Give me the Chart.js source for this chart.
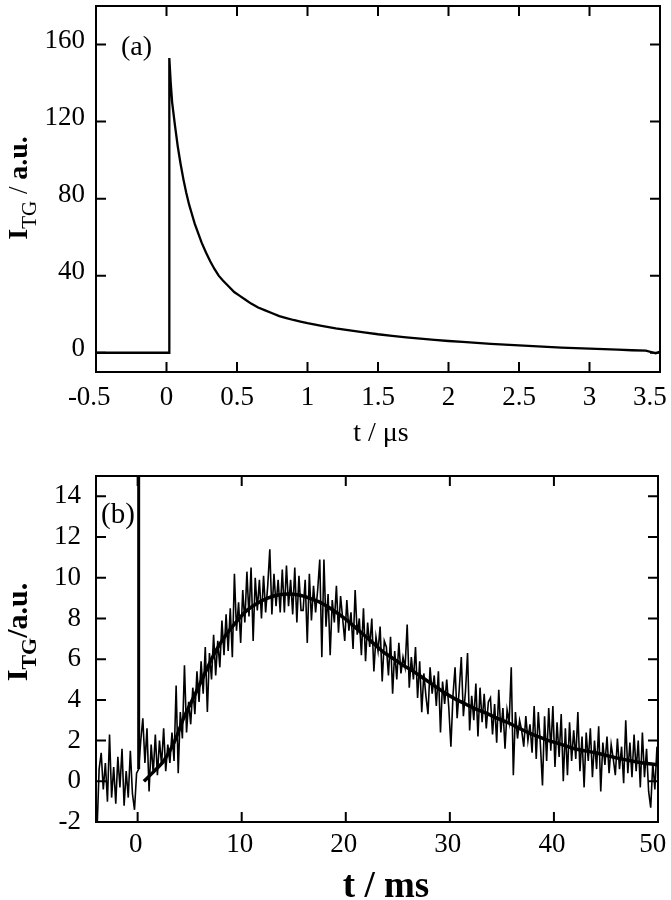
<!DOCTYPE html>
<html>
<head>
<meta charset="utf-8">
<script src="https://cdn.jsdelivr.net/npm/chart.js@4.4.1/dist/chart.umd.min.js"></script>
<style>
  html, body { margin: 0; padding: 0; background: #fff; }
  canvas { display: block; }
</style>
</head>
<body>
<canvas id="chart-a" width="671" height="450"></canvas>
<canvas id="chart-b" width="671" height="450"></canvas>
<script>
// Panel (a): TG decay in microseconds
const timeA = [-0.5, 0.02, 0.02, 0.03, 0.04, 0.06, 0.08, 0.10, 0.12, 0.14, 0.16, 0.18, 0.20, 0.22,
  0.25, 0.28, 0.31, 0.34, 0.37, 0.40, 0.44, 0.48, 0.52, 0.56, 0.60, 0.65, 0.70, 0.75, 0.80, 0.85,
  0.90, 0.95, 1.0, 1.1, 1.2, 1.3, 1.4, 1.5, 1.6, 1.7, 1.8, 1.9, 2.0, 2.1, 2.2, 2.3, 2.4, 2.5,
  2.6, 2.7, 2.8, 2.9, 3.0, 3.1, 3.2, 3.3, 3.4, 3.47, 3.5];
const signalA = [0, 0, 153, 140, 130, 118, 107, 98, 90, 83, 77, 72, 67, 63,
  57, 52, 47.5, 43.5, 40, 37.5, 34.5, 31.5, 29.5, 27.5, 25.5, 23.5, 22, 20.5, 19, 18,
  17, 16.2, 15.4, 14, 12.7, 11.6, 10.6, 9.6, 8.8, 8.0, 7.3, 6.7, 6.1, 5.6, 5.1, 4.6, 4.2, 3.8,
  3.4, 3.0, 2.7, 2.4, 2.1, 1.9, 1.6, 1.3, 1.1, -0.3, 0.6];
const xTicksA = [-0.5, 0, 0.5, 1, 1.5, 2, 2.5, 3, 3.5];
const xLabelsA = ['-0.5  ', '0', '0.5', '1', '1.5', '2', '2.5', '3', '3.5   '];
const yTicksA = [0, 40, 80, 120, 160];

// Panel (b): raw TG signal in ms, sampled every 0.2 ms starting at -4.1 ms
const rawStartB = -4.1;
const rawStepB = 0.2;
const rawB = [
  0.3, -2.4, 0.6, 1.4, -0.4, 0.9, -1.0, 2.3, -0.8, 0.7,
  -1.1, 1.2, -0.3, 1.6, -1.2, 0.5, -0.8, 1.5, -0.6, -1.4,
  0.4, 0.6, 2.0, 3.1, 0.9, 2.6, -0.5, 1.8, 0.4, 2.3,
  0.3, 2.0, 0.8, 2.6, 0.5, 1.8, 0.9, 2.4, 1.0, 4.7,
  0.4, 3.4, 2.1, 5.7, 2.4, 3.9, 2.8, 4.6, 3.3, 5.4,
  3.9, 5.9, 4.3, 6.6, 3.4, 6.3, 5.0, 7.2, 5.2, 6.9,
  5.6, 7.9, 6.2, 8.2, 6.4, 8.5, 6.1, 10.2, 7.4, 8.8,
  6.8, 9.4, 7.8, 10.3, 8.1, 10.5, 6.9, 10.0, 8.4, 9.9,
  8.0, 10.1, 8.3, 9.6, 11.4, 8.2, 10.2, 8.6, 9.9, 8.3,
  10.4, 8.3, 10.6, 8.6, 9.9, 8.2, 10.5, 7.8, 10.1, 8.4,
  8.4, 9.9, 6.8, 10.2, 7.9, 9.6, 8.3, 9.4, 10.9, 6.1,
  10.9, 7.6, 9.2, 6.2, 8.9, 7.8, 9.6, 7.3, 9.1, 8.0,
  6.9, 8.9, 7.4, 8.3, 6.5, 9.4, 7.2, 8.0, 6.2, 8.5,
  5.9, 7.8, 6.6, 8.0, 5.4, 7.1, 6.4, 7.6, 4.9, 6.9,
  6.6, 5.2, 7.1, 4.3, 6.4, 5.0, 6.8, 5.3, 6.1, 5.6,
  7.7, 4.6, 6.1, 5.0, 6.6, 4.1, 5.9, 3.4, 5.3, 4.2,
  3.3, 5.6, 4.3, 5.2, 3.7, 5.4, 2.4, 4.9, 3.8, 5.0,
  3.6, 1.7, 4.2, 5.6, 3.1, 4.5, 6.1, 3.2, 4.4, 6.3,
  2.5, 4.2, 3.0, 4.8, 2.2, 4.6, 2.9, 4.3, 2.6, 3.9,
  4.1, 2.3, 3.8, 1.9, 4.5, 2.4, 3.6, 1.6, 3.5, 2.9,
  5.6, 0.3, 3.4, 2.1, 3.0, 2.5, 1.7, 3.2, 2.0, 2.8,
  1.4, 3.7, 1.1, 3.4, 1.8, -0.2, 3.2, 1.0, 3.6, 1.5,
  3.7, 0.7, 2.9, 1.2, 3.3, 0.0, 2.6, 0.3, 2.9, 1.0,
  2.5, 1.1, 3.4, 0.5, 2.2, -0.3, 2.4, 1.0, 2.6, 0.2,
  2.0, 0.6, 2.7, -0.5, 1.9, 0.8, 2.2, 0.4, 1.8, 1.1,
  0.3, 2.1, 0.6, 1.7, -0.1, 3.0, 0.4, 1.9, 0.2, 2.3,
  0.5, 2.0, -0.3, 2.4, 0.2, 1.6, -0.5, -1.3, 0.9, -0.4,
  1.7, 0.8
];
// pump pulse spike in the raw trace (goes off scale)
const spikeTimeB = [0.1, 0.1];
const spikeB = [0.6, 16];
// Panel (b): fitted curve
const fitTimeB = [0.6, 1.5, 2.5, 3.5, 4.5, 5.5, 6.5, 7.5, 8.5, 9.5, 10.5, 11.5, 12.5, 13.5, 14.5,
  15.5, 16.5, 17.5, 18.5, 19.5, 20.5, 21.5, 22.5, 23.5, 24.5, 25.5, 26.5, 27.5, 28.5, 29.5,
  30.5, 31.5, 32.5, 33.5, 34.5, 35.5, 36.5, 37.5, 38.5, 39.5, 40.5, 42, 44, 46, 48, 50];
const fitB = [0, 0.45, 1.0, 1.9, 3.2, 4.25, 5.35, 6.4, 7.2, 7.85, 8.4, 8.75, 9.0, 9.15, 9.2,
  9.15, 9.0, 8.8, 8.5, 8.15, 7.75, 7.3, 6.85, 6.4, 6.05, 5.7, 5.4, 5.05, 4.7, 4.35,
  4.05, 3.8, 3.55, 3.35, 3.1, 2.9, 2.65, 2.4, 2.2, 2.0, 1.85, 1.6, 1.4, 1.15, 0.95, 0.8];
const xTicksB = [0, 10, 20, 30, 40, 50];
const xLabelsB = ['0', '10', '20', '30', '40', '50 '];
const yTicksB = [-2, 0, 2, 4, 6, 8, 10, 12, 14];

const SERIF = '"Liberation Serif", "Times New Roman", serif';

// frame with inward ticks on all four sides, panel letter and axis titles
const framePlugin = {
  id: 'frame',
  afterDraw(chart, args, opts) {
    const { ctx, chartArea: a, scales: { x, y } } = chart;
    ctx.save();
    ctx.strokeStyle = '#000';
    ctx.lineWidth = 2;
    ctx.strokeRect(a.left, a.top, a.right - a.left, a.bottom - a.top);
    const L = 10;
    ctx.beginPath();
    x.ticks.forEach(t => {
      const px = x.getPixelForValue(t.value);
      ctx.moveTo(px, a.bottom); ctx.lineTo(px, a.bottom - L);
      ctx.moveTo(px, a.top); ctx.lineTo(px, a.top + L);
    });
    y.ticks.forEach(t => {
      const py = y.getPixelForValue(t.value);
      ctx.moveTo(a.left, py); ctx.lineTo(a.left + L, py);
      ctx.moveTo(a.right, py); ctx.lineTo(a.right - L, py);
    });
    ctx.stroke();

    ctx.fillStyle = '#000';
    // panel letter
    ctx.font = opts.letterFont;
    ctx.textBaseline = 'middle';
    ctx.textAlign = 'left';
    ctx.fillText(opts.letter, opts.letterX, opts.letterY);

    // x title
    ctx.font = opts.xTitleFont;
    ctx.textAlign = 'center';
    ctx.textBaseline = 'alphabetic';
    ctx.fillText(opts.xTitle, (a.left + a.right) / 2 + opts.xTitleDx, opts.xTitleY);

    // rotated y title with subscript
    const parts = opts.yTitle;
    ctx.translate(opts.yTitleX, (a.top + a.bottom) / 2 + opts.yTitleDy);
    ctx.rotate(-Math.PI / 2);
    let total = 0;
    parts.forEach(p => { ctx.font = p.font; total += ctx.measureText(p.text).width; });
    let cx = -total / 2;
    ctx.textAlign = 'left';
    parts.forEach(p => {
      ctx.font = p.font;
      ctx.fillText(p.text, cx, p.dy || 0);
      cx += ctx.measureText(p.text).width;
    });
    ctx.restore();
  }
};

function fixTicks(list) {
  return scale => { scale.ticks = list.map(v => ({ value: v })); };
}
function fitX(scale) {
  scale.height = 78;
  scale.paddingLeft = 0; scale.paddingRight = 0;
}
function fitY(scale) {
  scale.width = 96;
  scale.paddingTop = 0; scale.paddingBottom = 0;
}

// Chart (a)
new Chart(document.getElementById('chart-a'), {
  type: 'line',
  data: {
    datasets: [{
      data: timeA.map((t, i) => ({ x: t, y: signalA[i] })),
      borderColor: '#000',
      borderWidth: 2.3,
      pointRadius: 0,
      tension: 0
    }]
  },
  options: {
    responsive: false,
    animation: false,
    layout: { padding: { left: 0, right: 11, top: 6, bottom: 0 } },
    plugins: {
      legend: { display: false },
      tooltip: { enabled: false },
      frame: {
        letter: '(a)', letterFont: '28px ' + SERIF, letterX: 121, letterY: 48,
        xTitle: 't / \u03bcs', xTitleFont: '28px ' + SERIF, xTitleDx: 3, xTitleY: 441,
        yTitleX: 27, yTitleDy: -1,
        yTitle: [
          { text: 'I', font: 'bold 28px ' + SERIF },
          { text: 'TG', font: '21px ' + SERIF, dy: 9 },
          { text: ' / ', font: '27px ' + SERIF },
          { text: 'a.u.', font: 'bold 28px ' + SERIF }
        ]
      }
    },
    scales: {
      x: {
        type: 'linear', min: -0.5, max: 3.5,
        afterBuildTicks: fixTicks(xTicksA),
        afterFit: fitX,
        grid: { display: false, drawTicks: false },
        border: { display: false },
        ticks: {
          color: '#000', padding: 10,
          font: { family: SERIF, size: 27 },
          callback: (v, i) => xLabelsA[i]
        }
      },
      y: {
        type: 'linear', min: -10, max: 180,
        afterBuildTicks: fixTicks(yTicksA),
        afterFit: fitY,
        grid: { display: false, drawTicks: false },
        border: { display: false },
        ticks: {
          color: '#000', padding: 11, labelOffset: -4,
          font: { family: SERIF, size: 27 }
        }
      }
    }
  },
  plugins: [framePlugin]
});

// Chart (b)
new Chart(document.getElementById('chart-b'), {
  type: 'line',
  data: {
    datasets: [{
      data: fitTimeB.map((t, i) => ({ x: t, y: fitB[i] })),
      borderColor: '#000',
      borderWidth: 3.5,
      pointRadius: 0,
      tension: 0.3
    }, {
      data: spikeTimeB.map((t, i) => ({ x: t, y: spikeB[i] })),
      borderColor: '#000',
      borderWidth: 3,
      pointRadius: 0
    }, {
      data: rawB.map((v, i) => ({ x: rawStartB + i * rawStepB, y: v })),
      borderColor: '#000',
      borderWidth: 1.6,
      pointRadius: 0,
      tension: 0
    }]
  },
  options: {
    responsive: false,
    animation: false,
    layout: { padding: { left: 0, right: 13, top: 26, bottom: 0 } },
    plugins: {
      legend: { display: false },
      tooltip: { enabled: false },
      frame: {
        letter: '(b)', letterFont: '29px ' + SERIF, letterX: 101, letterY: 65,
        xTitle: 't / ms', xTitleFont: 'bold 37px ' + SERIF, xTitleDx: 9, xTitleY: 447,
        yTitleX: 27, yTitleDy: -17,
        yTitle: [
          { text: 'I', font: 'bold 30px ' + SERIF },
          { text: 'TG', font: 'bold 22px ' + SERIF, dy: 9 },
          { text: '/a.u.', font: 'bold 30px ' + SERIF }
        ]
      }
    },
    scales: {
      x: {
        type: 'linear', min: -4, max: 50,
        afterBuildTicks: fixTicks(xTicksB),
        afterFit: fitX,
        grid: { display: false, drawTicks: false },
        border: { display: false },
        ticks: {
          color: '#000', padding: 7, labelOffset: -2,
          font: { family: SERIF, size: 27 },
          callback: (v, i) => xLabelsB[i]
        }
      },
      y: {
        type: 'linear', min: -2, max: 15,
        afterBuildTicks: fixTicks(yTicksB),
        afterFit: fitY,
        grid: { display: false, drawTicks: false },
        border: { display: false },
        ticks: {
          color: '#000', padding: 15,
          font: { family: SERIF, size: 27 }
        }
      }
    }
  },
  plugins: [framePlugin]
});
</script>
</body>
</html>
